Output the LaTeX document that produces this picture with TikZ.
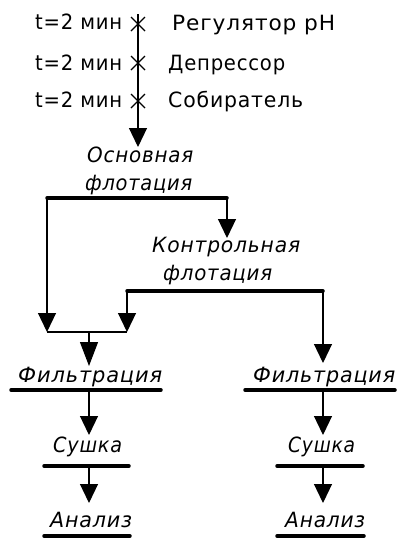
\documentclass[tikz,border=0pt]{standalone}
\usepackage{fontspec}
\usepackage{graphicx}
\setmainfont{DejaVu Sans}
\newfontfamily\gostfont[LetterSpace=4]{DejaVu Sans}
\usetikzlibrary{arrows.meta}
% set a text to a given width (in pt) by horizontal scaling
\newlength\gostw
\newcommand\fitto[2]{\settowidth\gostw{#2}\pgfmathsetmacro\gostr{#1/\gostw}\scalebox{\gostr}[1]{#2}}
\tikzset{
  lbl/.style={inner sep=0pt, anchor=base west, font=\gostfont\fontsize{21}{25}\selectfont},
  ilbl/.style={lbl, font=\gostfont\itshape\fontsize{21}{25}\selectfont},
  bar/.style={line width=3.5pt, line cap=round},
  link/.style={line width=1.2pt},
  flow/.style={line width=1.2pt, -{Triangle[width=18pt,length=19pt]}},
  longflow/.style={line width=1.2pt, -{Triangle[width=18pt,length=24pt]}},
  crossmark/.style={line width=1.1pt},
}
\begin{document}
\begin{tikzpicture}[x=1pt, y=-1pt]
\useasboundingbox (0,0) rectangle (400,539);

% reagent additions
\node[lbl] (t1) at (35,29)  {\fitto{87}{t=2 мин}};
\node[lbl] (t2) at (35,70)  {\fitto{87}{t=2 мин}};
\node[lbl] (t3) at (35,107) {\fitto{87}{t=2 мин}};
\node[lbl] (r1) at (172,30)  {\fitto{163}{Регулятор pH}};
\node[lbl] (r2) at (168,70)  {\fitto{117}{Депрессор}};
\node[lbl] (r3) at (168,107) {\fitto{135}{Собиратель}};

\coordinate (feed) at (138,14);
\foreach \cy in {24,63,101}{
  \draw[crossmark] (131,\cy-7) -- (145,\cy+7) (131,\cy+7) -- (145,\cy-7);
}

% process stages
\node[ilbl] (o1) at (87,162)  {\fitto{106}{Основная}};
\node[ilbl] (o2) at (85,190)  {\fitto{107}{флотация}};
\node[ilbl] (k1) at (152,252) {\fitto{148}{Контрольная}};
\node[ilbl] (k2) at (163,280) {\fitto{109}{флотация}};
\node[ilbl] (f1) at (18,382)  {\fitto{144}{Фильтрация}};
\node[ilbl] (f2) at (253,382) {\fitto{142}{Фильтрация}};
\node[ilbl] (s1) at (53,452)  {\fitto{69}{Сушка}};
\node[ilbl] (s2) at (288,452) {\fitto{67}{Сушка}};
\node[ilbl] (a1) at (50,527)  {\fitto{82}{Анализ}};
\node[ilbl] (a2) at (285,527) {\fitto{80}{Анализ}};

% stage bars
\coordinate (oL) at (47,198);  \coordinate (oR) at (227,198);
\coordinate (kL) at (127,291); \coordinate (kR) at (323,291);
\draw[bar] (oL) -- (oR);
\draw[bar] (kL) -- (kR);
\draw[bar] (11,390) -- (161,390);
\draw[bar] (245,390) -- (395,390);
\draw[bar] (44,466) -- (129,466);
\draw[bar] (277,466) -- (363,466);
\draw[bar] (44,536) -- (130,536);
\draw[bar] (277,536) -- (364,536);

% flows
\coordinate (feedEnd) at (138,147);
\draw[flow] (feed) -- (feedEnd);
\draw[flow] (oR) -- (227,238);
\coordinate (jL) at (47,332); \coordinate (jR) at (127,332); \coordinate (jM) at (89,332);
\draw[flow] (oL) -- (jL);
\draw[flow] (kL) -- (jR);
\draw[link] (jL) -- (jR);
\draw[longflow] (jM) -- (89,366);
\draw[flow] (kR) -- (323,363);
\draw[flow] (89,390) -- (89,435);
\draw[flow] (89,466) -- (89,503);
\draw[flow] (323,390) -- (323,435);
\draw[flow] (323,466) -- (323,503);
\end{tikzpicture}
\end{document}
